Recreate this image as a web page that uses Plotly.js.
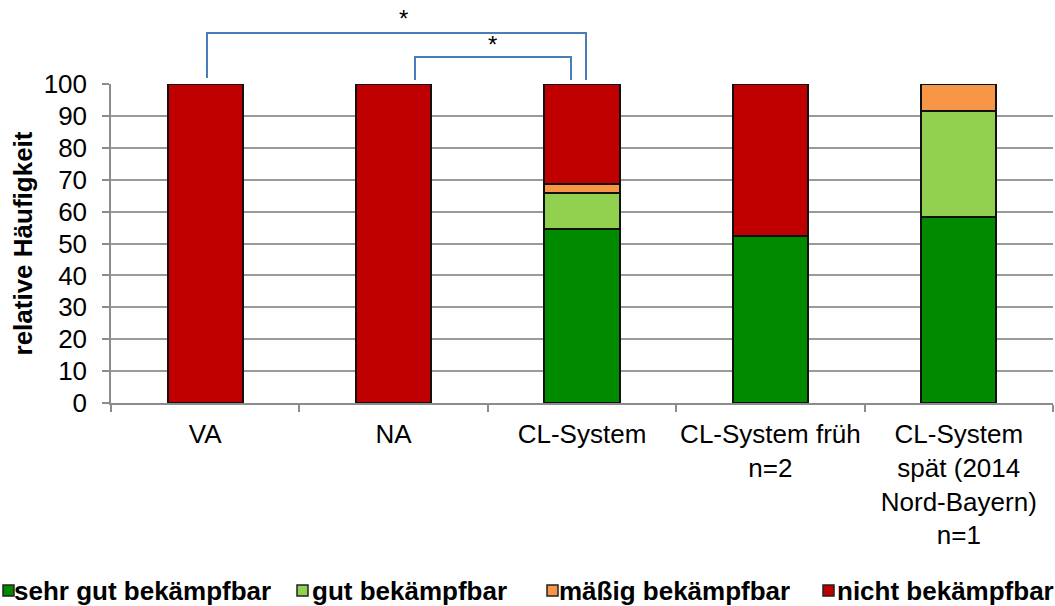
<!DOCTYPE html>
<html>
<head>
<meta charset="utf-8">
<script src="https://cdn.plot.ly/plotly-3.0.1.min.js"></script>
<style>
html,body{margin:0;padding:0;background:#fff;}
#chart{width:1055px;height:606px;}
</style>
</head>
<body>
<div id="chart"></div>
<script>
// ---- data ----
const categories = [
  "VA",
  "NA",
  "CL-System",
  "CL-System früh<br>n=2",
  "CL-System<br>spät (2014<br>Nord-Bayern)<br>n=1"
];
const seriesNames = ["sehr gut bekämpfbar", "gut bekämpfbar", "mäßig bekämpfbar", "nicht bekämpfbar"];
const sehrGut = [0, 0, 54.5, 52.4, 58.3];
const gut     = [0, 0, 11.3, 0, 33.3];
const maessig = [0, 0, 3.0, 0, 8.4];
const nicht   = [100, 100, 31.2, 47.6, 0];
const colors  = ["#008A00", "#92D050", "#F79646", "#C00000"];
const yTicks  = [0, 10, 20, 30, 40, 50, 60, 70, 80, 90, 100];
const sigLabel = "*";

const seriesValues = [sehrGut, gut, maessig, nicht];
const FONT = "'Liberation Sans', Arial, sans-serif";

const traces = seriesValues.map((vals, i) => ({
  type: "bar",
  name: seriesNames[i],
  x: categories,
  y: vals,
  marker: {color: colors[i], line: {color: "#111", width: 2}},
  hoverinfo: "x+y+name",
  showlegend: false
}));

// paper coords helpers (plot area: left 111, width 942; top 84, height 319)
const px = p => (p - 111) / 942;
const py = p => (403 - p) / 319;

const bracketColor = "#4A7EBB";
const shapes = [
  // big bracket VA -> CL-System
  {type: "path", xref: "paper", yref: "paper",
   path: `M ${px(207)} ${py(78)} L ${px(207)} ${py(33)} L ${px(586)} ${py(33)} L ${px(586)} ${py(80)}`,
   line: {color: bracketColor, width: 2}},
  // small bracket NA -> CL-System
  {type: "path", xref: "paper", yref: "paper",
   path: `M ${px(415)} ${py(80)} L ${px(415)} ${py(57)} L ${px(571)} ${py(57)} L ${px(571)} ${py(80)}`,
   line: {color: bracketColor, width: 2}}
];

const annotations = [
  {xref: "paper", yref: "paper", x: px(397), y: py(3), text: sigLabel, showarrow: false,
   font: {family: FONT, size: 24, color: "#000"}},
  {xref: "paper", yref: "paper", x: px(492), y: py(29), text: sigLabel, showarrow: false,
   font: {family: FONT, size: 24, color: "#000"}}
];

// custom legend (single row, clipped at page edge as in the original)
const legSquareLeft = [3, 297, 547, 823];
const legTextLeft = [12, 310, 557, 835];
seriesNames.forEach((n, i) => {
  shapes.push({type: "rect", xref: "paper", yref: "paper",
    x0: px(legSquareLeft[i]), x1: px(legSquareLeft[i] + 11),
    y0: py(596), y1: py(585),
    fillcolor: colors[i], line: {color: "#222", width: 1.5}});
  annotations.push({xref: "paper", yref: "paper", x: px(legTextLeft[i]), y: py(591),
    xanchor: "left", yanchor: "middle", text: "<b>" + n + "</b>", showarrow: false,
    font: {family: FONT, size: 26, color: "#000"}});
});

const layout = {
  width: 1055, height: 606,
  margin: {l: 111, r: 2, t: 84, b: 203},
  paper_bgcolor: "#fff", plot_bgcolor: "#fff",
  barmode: "stack",
  bargap: 0.6,
  font: {family: FONT, size: 26, color: "#000"},
  showlegend: false,
  xaxis: {
    type: "category",
    showline: true, linecolor: "#8c8c8c", linewidth: 1.5,
    ticks: "outside", tickson: "boundaries", ticklen: 7, tickcolor: "#8c8c8c", tickwidth: 1.5,
    tickangle: 0, ticklabelstandoff: 7,
    tickfont: {family: FONT, size: 26, color: "#000"},
    showgrid: false, zeroline: false, fixedrange: true,
    automargin: false
  },
  yaxis: {
    range: [0, 100],
    tickvals: yTicks, ticktext: yTicks.map(String),
    showline: true, linecolor: "#8c8c8c", linewidth: 1.5,
    ticks: "outside", ticklen: 7, tickcolor: "#8c8c8c", tickwidth: 1.5,
    ticklabelstandoff: 10,
    tickfont: {family: FONT, size: 26, color: "#000"},
    showgrid: true, gridcolor: "#9a9a9a", gridwidth: 1.5,
    zeroline: false, fixedrange: true, automargin: false,
    title: {text: "<b>relative Häufigkeit</b>", standoff: 4,
            font: {family: FONT, size: 26, color: "#000"}}
  },
  shapes: shapes,
  annotations: annotations
};

Plotly.newPlot("chart", traces, layout, {displayModeBar: false, staticPlot: false});
</script>
</body>
</html>
